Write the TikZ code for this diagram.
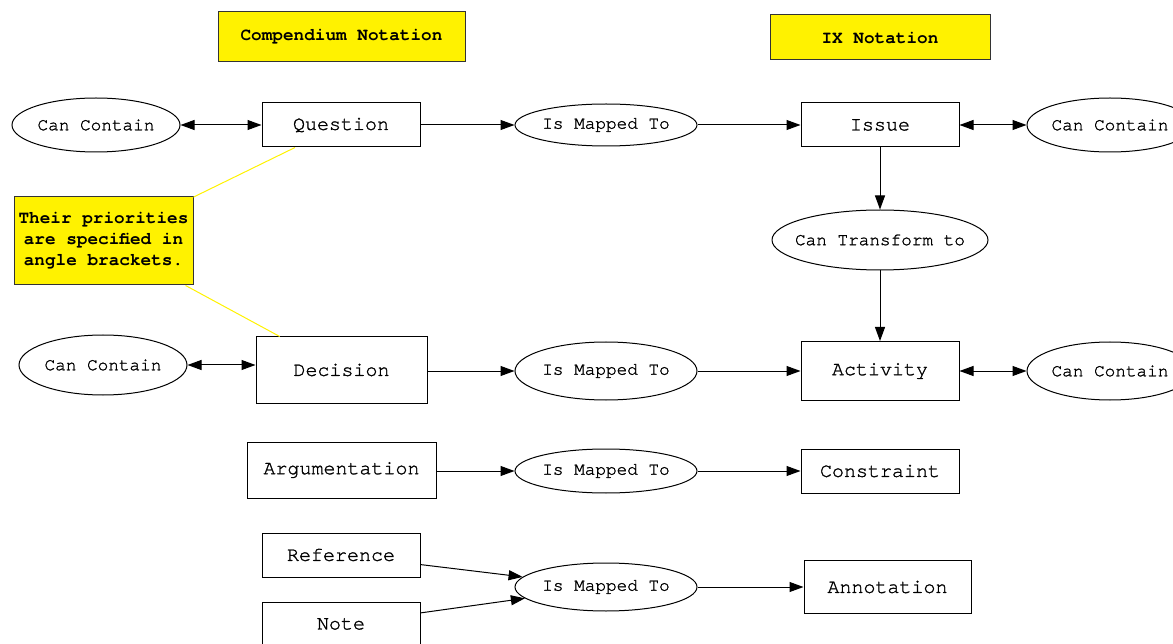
\documentclass[tikz,border=0pt]{standalone}
\usepackage{fontspec}
\setmainfont{texgyrecursor}[Extension=.otf, UprightFont=*-regular, BoldFont=*-bold, UprightFeatures={FakeBold=1.3}]
\usetikzlibrary{shapes.geometric,arrows.meta}
\newcommand{\ovtxt}[1]{\makebox[0pt]{#1}}
\tikzset{
  box/.style={draw, line width=1pt, inner sep=0pt, font=\fontsize{20}{22}\selectfont},
  oval/.style={draw, ellipse, line width=1pt, inner sep=0pt, font=\fontsize{17.7}{20}\selectfont},
  hdr/.style={draw=black!80, fill=yellow, line width=1pt, inner sep=0pt, font=\bfseries\fontsize{17.7}{20}\selectfont},
  notebox/.style={draw=black!80, fill=yellow, line width=1pt, inner sep=0pt, align=center, font=\bfseries\fontsize{17.7}{21}\selectfont},
  conn/.style={line width=1pt, -{Triangle[length=14pt,width=10pt]}},
  bconn/.style={line width=1pt, {Triangle[length=14pt,width=10pt]}-{Triangle[length=14pt,width=10pt]}},
  lnk/.style={draw=yellow, line width=1pt}
}
\begin{document}
\begin{tikzpicture}[x=1pt,y=-1pt]
\useasboundingbox (0,0) rectangle (1173,644);
\clip (0,0) rectangle (1173,644);
% headers
\node[hdr, minimum width=247pt, minimum height=50pt] (hc) at (341.5,37) {Compendium Notation};
\node[hdr, minimum width=220pt, minimum height=45pt] (hx) at (880,37.5) {IX Notation};
% row 1
\node[oval, minimum width=168pt, minimum height=54pt] (cc1) at (96,125) {\ovtxt{Can Contain}};
\node[box, minimum width=158pt, minimum height=44pt] (q) at (341,125) {Question};
\node[oval, minimum width=182pt, minimum height=42pt] (m1) at (606,125) {\ovtxt{Is Mapped To}};
\node[box, minimum width=158pt, minimum height=44pt] (iss) at (880,125) {Issue};
\node[oval, minimum width=166pt, minimum height=54pt] (cc2) at (1110,125) {\ovtxt{Can Contain}};
\node[oval, minimum width=216pt, minimum height=60pt] (ct) at (880,240) {\ovtxt{Can Transform to}};
% note
\node[notebox, minimum width=179pt, minimum height=88pt] (nt) at (103.5,241) {Their priorities\\are specified in\\angle brackets.};
% row 2
\node[oval, minimum width=168pt, minimum height=60pt] (cc3) at (103,365) {\ovtxt{Can Contain}};
\node[box, minimum width=171pt, minimum height=66pt] (dec) at (341.5,370) {Decision};
\node[oval, minimum width=182pt, minimum height=58pt] (m2) at (606,371) {\ovtxt{Is Mapped To}};
\node[box, minimum width=158pt, minimum height=59pt] (act) at (880,371) {Activity};
\node[oval, minimum width=166pt, minimum height=58pt] (cc4) at (1110,371) {\ovtxt{Can Contain}};
% row 3
\node[box, minimum width=189pt, minimum height=56pt] (arg) at (341.5,470) {Argumentation};
\node[oval, minimum width=182pt, minimum height=44pt] (m3) at (606,471) {\ovtxt{Is Mapped To}};
\node[box, minimum width=158pt, minimum height=44pt] (con) at (880,471) {Constraint};
% row 4
\node[box, minimum width=158pt, minimum height=44pt] (ref) at (341,555) {Reference};
\node[box, minimum width=158pt, minimum height=44pt] (nte) at (341,624) {Note};
\node[oval, minimum width=182pt, minimum height=48pt] (m4) at (606,587) {\ovtxt{Is Mapped To}};
\node[box, minimum width=167pt, minimum height=53pt] (ann) at (887.5,587) {Annotation};
% yellow links
\draw[lnk] (nt) -- (q);
\draw[lnk] (nt) -- (dec);
% connectors
\draw[bconn] (cc1.east) -- (q.west);
\draw[conn] (q.east) -- (m1.west);
\draw[conn] (m1.east) -- (iss.west);
\draw[bconn] (iss.east) -- (cc2.west);
\draw[conn] (iss.south) -- (ct.north);
\draw[conn] (ct.south) -- (act.north);
\draw[bconn] (cc3.east) -- (cc3.east -| dec.west);
\draw[conn] (dec.east |- m2.west) -- (m2.west);
\draw[conn] (m2.east) -- (act.west |- m2.east);
\draw[bconn] (act.east |- cc4.west) -- (cc4.west);
\draw[conn] (arg.east |- m3.west) -- (m3.west);
\draw[conn] (m3.east) -- (con.west);
\draw[conn] (ref) -- (m4);
\draw[conn] (nte) -- (m4);
\draw[conn] (m4.east) -- (ann.west);
\end{tikzpicture}
\end{document}
